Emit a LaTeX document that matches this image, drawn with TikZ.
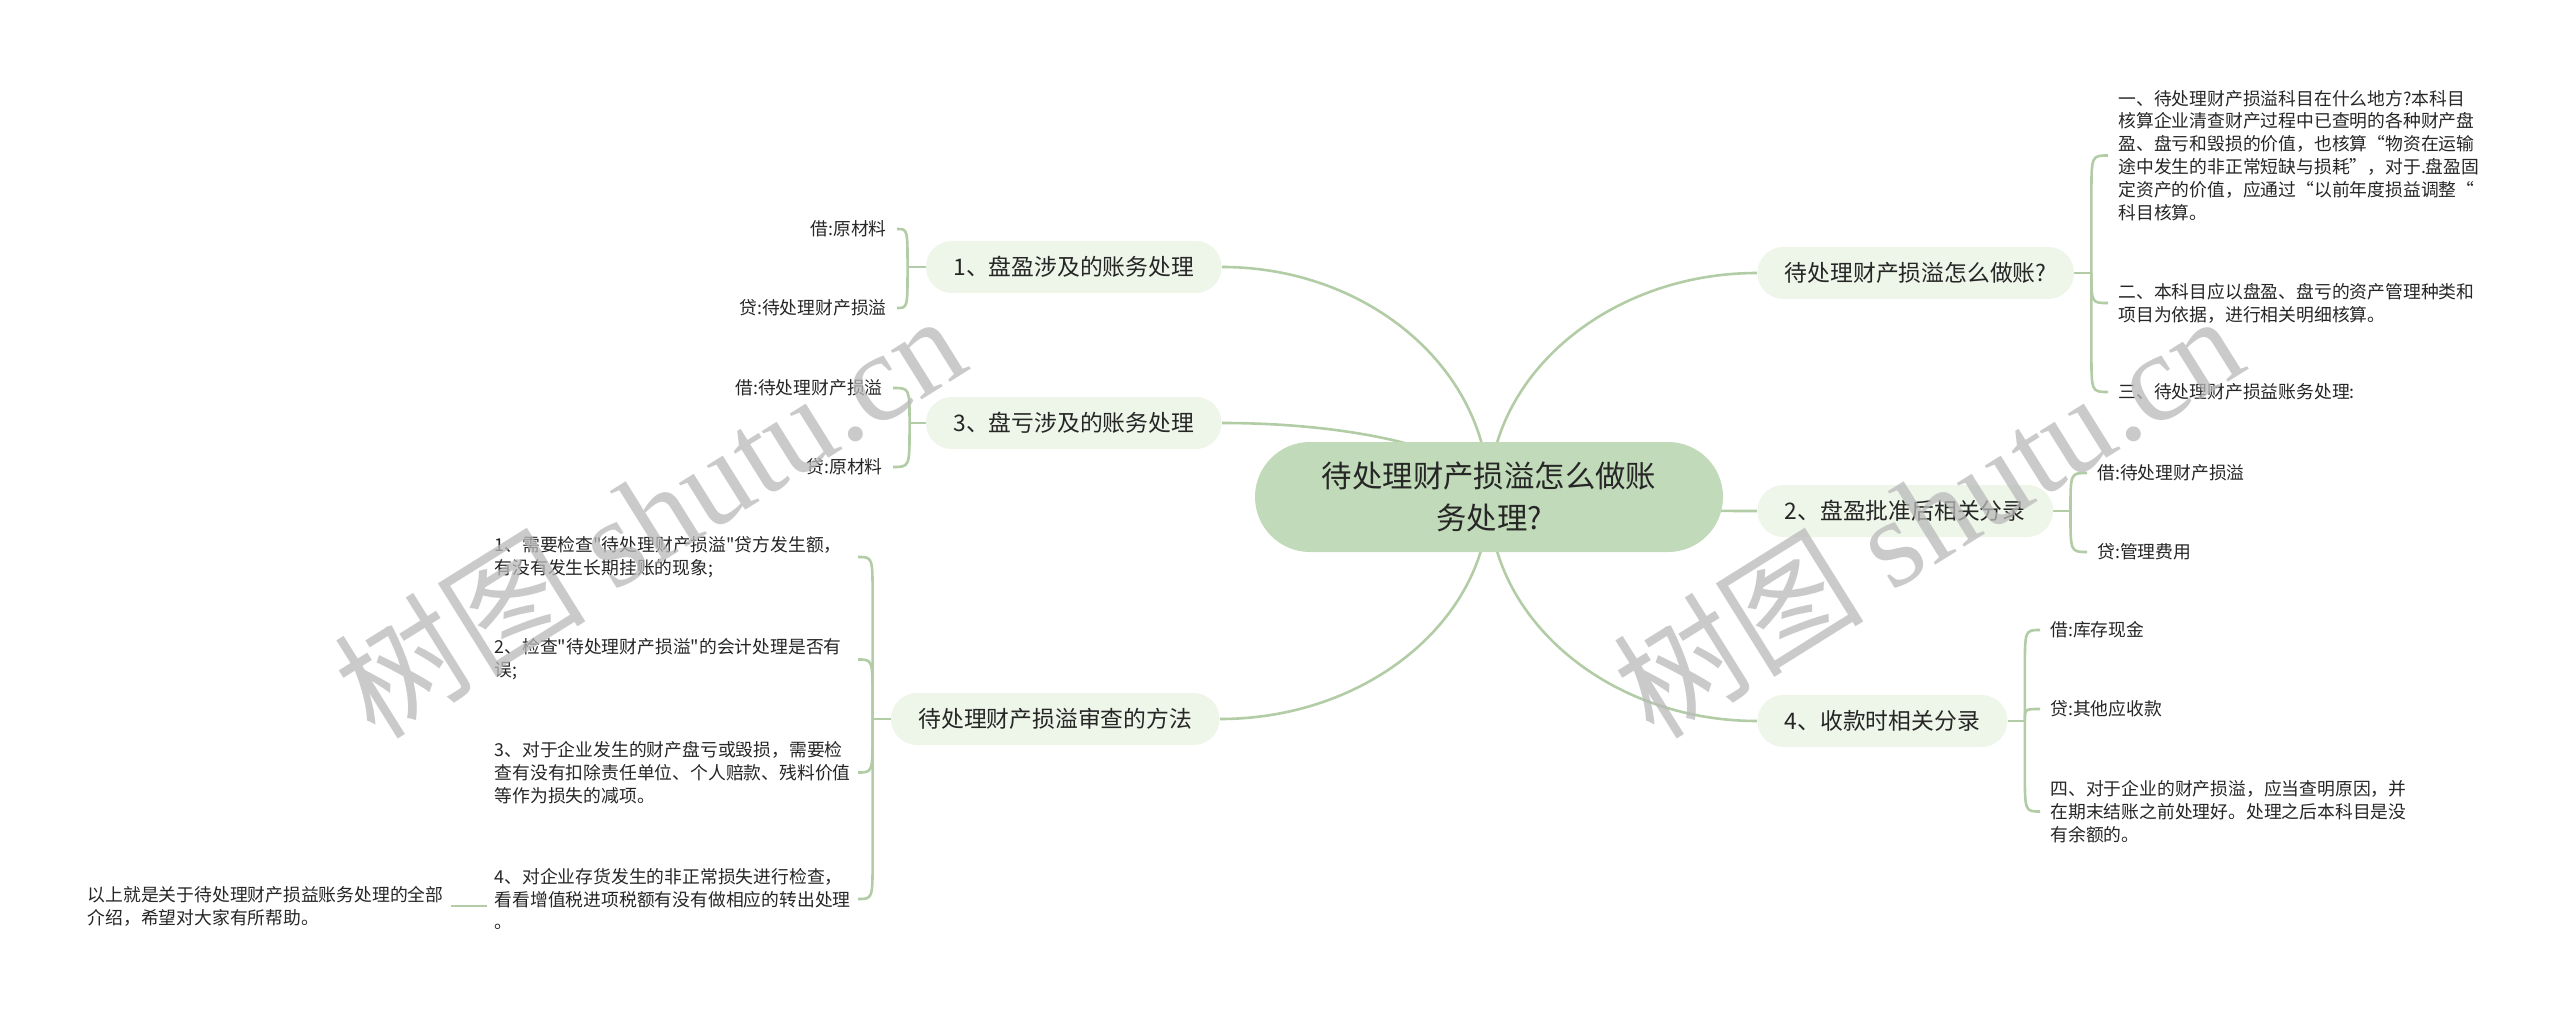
\documentclass[tikz,border=0pt]{standalone}
\usepackage{fontspec}
\setmainfont{Noto Sans CJK SC}
\newfontfamily\cjk{Noto Sans CJK SC}
\newfontfamily\wmlatin{Liberation Serif}
\usetikzlibrary{calc,backgrounds}
\definecolor{conn}{RGB}{178,205,166}
\definecolor{cfill}{RGB}{193,218,185}
\definecolor{bfill}{RGB}{238,245,233}
\definecolor{tcol}{RGB}{38,38,38}
\definecolor{wm}{RGB}{185,185,185}
\newcommand\mybrl[3]{\draw[line] (#1) -- ($(#1 |- #2.east)+(0,#3)$) .. controls (#1 |- #2.east) .. (#2.east);}
\newcommand\mybrr[3]{\draw[line] (#1) -- ($(#1 |- #2.west)+(0,#3)$) .. controls (#1 |- #2.west) .. (#2.west);}
\begin{document}
\begin{tikzpicture}[x=0.5pt,y=-0.5pt,
  line/.style={draw=conn,line width=1.3pt},
  rootnode/.style={fill=cfill, rounded corners=27.5pt, minimum width=234pt, minimum height=55pt, align=center, font=\cjk\fontsize{15.2}{21}\selectfont, text=tcol, inner sep=0pt},
  branch/.style={fill=bfill, rounded corners=13pt, minimum height=26pt, inner xsep=13.75pt, inner ysep=0pt, font=\cjk\fontsize{11.4}{14}\selectfont, text=tcol},
  leaf/.style={font=\cjk\fontsize{8.9}{11.45}\selectfont, text=tcol, align=left, inner xsep=5pt, inner ysep=1pt},
  sleaf/.style={leaf, text width=178pt, inner xsep=3.5pt},
  wmark/.style={text=wm, opacity=0.75, font=\cjk\fontsize{63}{63}\selectfont, rotate=32}
]
\useasboundingbox (0,0) rectangle (2560,1016);

% root and branches
\node[rootnode] (c) at (1489,497) {待处理财产损溢怎么做账\\务处理?};
\node[branch, anchor=east] (b1) at (1222,267) {1、盘盈涉及的账务处理};
\node[branch, anchor=east] (b3) at (1222,423) {3、盘亏涉及的账务处理};
\node[branch, anchor=east] (bs) at (1220,719) {待处理财产损溢审查的方法};
\node[branch, anchor=west] (r1) at (1757,273) {待处理财产损溢怎么做账?};
\node[branch, anchor=west] (r2) at (1757,511) {2、盘盈批准后相关分录};
\node[branch, anchor=west] (r4) at (1757,721) {4、收款时相关分录};

% right leaves
\node[leaf, anchor=west] (r1a) at (2108,155.5) {一、待处理财产损溢科目在什么地方?本科目\\核算企业清查财产过程中已查明的各种财产盘\\盈、盘亏和毁损的价值，也核算“物资在运输\\途中发生的非正常短缺与损耗”，对于.盘盈固\\定资产的价值，应通过“以前年度损益调整“\\科目核算。};
\node[leaf, anchor=west] (r1b) at (2108,303) {二、本科目应以盘盈、盘亏的资产管理种类和\\项目为依据，进行相关明细核算。};
\node[leaf, anchor=west] (r1c) at (2108,392) {三、待处理财产损益账务处理:};
\node[leaf, anchor=west] (r2a) at (2087,473) {借:待处理财产损溢};
\node[leaf, anchor=west] (r2b) at (2087,552) {贷:管理费用};
\node[leaf, anchor=west] (r4a) at (2040,630) {借:库存现金};
\node[leaf, anchor=west] (r4b) at (2040,709) {贷:其他应收款};
\node[leaf, anchor=west] (r4c) at (2040,811.5) {四、对于企业的财产损溢，应当查明原因，并\\在期末结账之前处理好。处理之后本科目是没\\有余额的。};

% left leaves
\node[leaf, anchor=east] (l1a) at (897,229) {借:原材料};
\node[leaf, anchor=east] (l1b) at (897,308) {贷:待处理财产损溢};
\node[leaf, anchor=east] (l3a) at (893,388) {借:待处理财产损溢};
\node[leaf, anchor=east] (l3b) at (893,467) {贷:原材料};
\node[sleaf, anchor=east] (s1) at (858,557) {1、需要检查"待处理财产损溢"贷方发生额，\\有没有发生长期挂账的现象;};
\node[sleaf, anchor=east] (s2) at (858,659.5) {2、检查"待处理财产损溢"的会计处理是否有\\误;};
\node[sleaf, anchor=east] (s3) at (858,772.5) {3、对于企业发生的财产盘亏或毁损，需要检\\查有没有扣除责任单位、个人赔款、残料价值\\等作为损失的减项。};
\node[sleaf, anchor=east] (s4) at (858,899) {4、对企业存货发生的非正常损失进行检查，\\看看增值税进项税额有没有做相应的转出处理\\。};
\node[sleaf, anchor=east] (s5) at (451,906) {以上就是关于待处理财产损益账务处理的全部\\介绍，希望对大家有所帮助。};

% junctions
\coordinate (j1) at ($(b1.west)+(-18,0)$);
\coordinate (j3) at ($(b3.west)+(-16,0)$);
\coordinate (js) at ($(bs.west)+(-18,0)$);
\coordinate (k1) at ($(r1.east)+(17,0)$);
\coordinate (k2) at ($(r2.east)+(17,0)$);
\coordinate (k4) at ($(r4.east)+(17,0)$);

\begin{scope}[on background layer]
\fill[white] (0,0) rectangle (2560,1016);
% root connectors
\draw[line] (c.center) .. controls +(0,-127) and +(147,0) .. (b1.east);
\draw[line] (c.center) .. controls +(0,-41) and +(147,0) .. (b3.east);
\draw[line] (c.center) .. controls +(0,122) and +(148,0) .. (bs.east);
\draw[line] (c.center) .. controls +(0,-123) and +(-147,0) .. (r1.west);
\draw[line] (c.center) .. controls +(0,8) and +(-147,0) .. (r2.west);
\draw[line] (c.center) .. controls +(0,123) and +(-147,0) .. (r4.west);
% stubs
\draw[line] (b1.west) -- (j1);
\draw[line] (b3.west) -- (j3);
\draw[line] (bs.west) -- (js);
\draw[line] (r1.east) -- (k1);
\draw[line] (r2.east) -- (k2);
\draw[line] (r4.east) -- (k4);
% brackets
\mybrl{j1}{l1a}{38}
\mybrl{j1}{l1b}{-40}
\mybrl{j3}{l3a}{35}
\mybrl{j3}{l3b}{-40}
\mybrl{js}{s1}{40}
\mybrl{js}{s2}{40}
\mybrl{js}{s3}{-40}
\mybrl{js}{s4}{-40}
\mybrr{k1}{r1a}{40}
\mybrr{k1}{r1b}{-30}
\mybrr{k1}{r1c}{-40}
\mybrr{k2}{r2a}{38}
\mybrr{k2}{r2b}{-40}
\mybrr{k4}{r4a}{40}
\mybrr{k4}{r4b}{12}
\mybrr{k4}{r4c}{-40}
\draw[line] (s5.east) -- (s5.east -| s4.west);
\end{scope}

% watermarks
\node[wmark] (wm1) at (649,514) {树图 {\wmlatin shutu.cn}};
\node[wmark] (wm2) at (1927,514) {树图 {\wmlatin shutu.cn}};
\end{tikzpicture}
\end{document}
